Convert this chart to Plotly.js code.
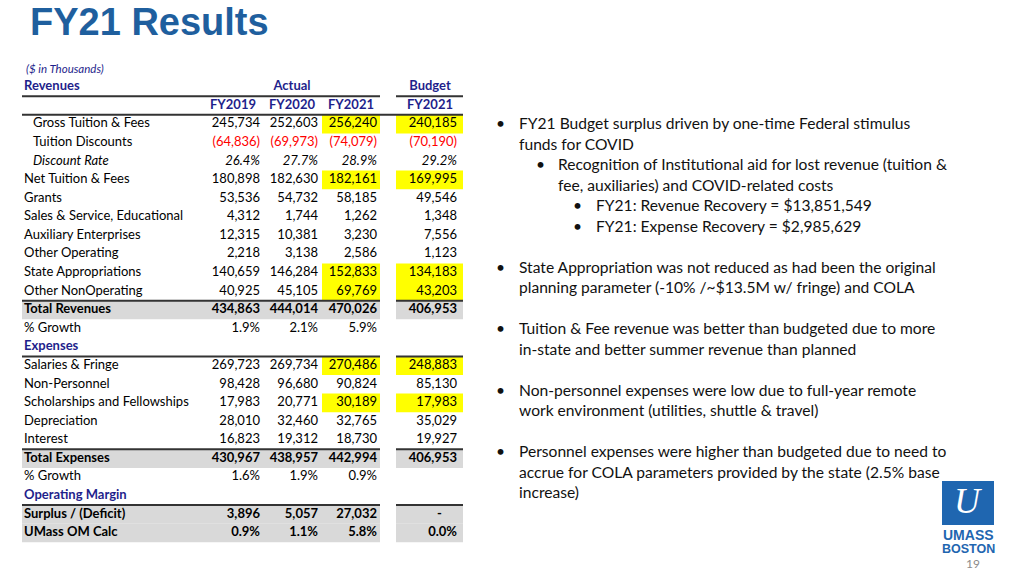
<!DOCTYPE html>
<html>
<head>
<meta charset="utf-8">
<script src="https://cdn.plot.ly/plotly-3.0.1.min.js"></script>
<style>
  html, body { margin: 0; padding: 0; background: #fff; }
  #fy21-results { width: 1024px; height: 576px; }
</style>
</head>
<body>
<div id="fy21-results"></div>
<script>
// ($ in Thousands)
var rowLabels = ["Gross Tuition & Fees", "Tuition Discounts", "Discount Rate", "Net Tuition & Fees", "Grants",
    "Sales & Service, Educational", "Auxiliary Enterprises", "Other Operating", "State Appropriations",
    "Other NonOperating", "Total Revenues", "% Growth", "Expenses", "Salaries & Fringe", "Non-Personnel",
    "Scholarships and Fellowships", "Depreciation", "Interest", "Total Expenses", "% Growth",
    "Operating Margin", "Surplus / (Deficit)", "UMass OM Calc"]

var actualFY2019 = [245734, -64836, 26.4, 180898, 53536, 4312, 12315, 2218, 140659, 40925, 434863, 1.9, null,
    269723, 98428, 17983, 28010, 16823, 430967, 1.6, null, 3896, 0.9]
var actualFY2020 = [252603, -69973, 27.7, 182630, 54732, 1744, 10381, 3138, 146284, 45105, 444014, 2.1, null,
    269734, 96680, 20771, 32460, 19312, 438957, 1.9, null, 5057, 1.1]
var actualFY2021 = [256240, -74079, 28.9, 182161, 58185, 1262, 3230, 2586, 152833, 69769, 470026, 5.9, null,
    270486, 90824, 30189, 32765, 18730, 442994, 0.9, null, 27032, 5.8]
var budgetFY2021 = [240185, -70190, 29.2, 169995, 49546, 1348, 7556, 1123, 134183, 43203, 406953, null, null,
    248883, 85130, 17983, 35029, 19927, 406953, null, null, 0, 0.0]

var columnHeaders = ["FY2019", "FY2020", "FY2021", "FY2021"]
var groupHeaders = ["Actual", "Budget"]

// row roles (indexes into rowLabels)
var percentRows = [2, 11, 19, 22]
var boldRows = [10, 18, 21, 22]
var sectionRows = [12, 20]
var indentRows = [0, 1, 2]
var italicRows = [2]
var highlightRows = [0, 3, 8, 9, 13, 15]
var shadedRows = [10, 18, 21, 22]
var ruleAboveRows = [10, 13, 18, 21]

var bullets = [
    [1, "FY21 Budget surplus driven by one-time Federal stimulus", true],
    [1, "funds for COVID", false],
    [2, "Recognition of Institutional aid for lost revenue (tuition &", true],
    [2, "fee, auxiliaries) and COVID-related costs", false],
    [3, "FY21: Revenue Recovery = $13,851,549", true],
    [3, "FY21: Expense Recovery = $2,985,629", true],
    null,
    [1, "State Appropriation was not reduced as had been the original", true],
    [1, "planning parameter (-10% /~$13.5M w/ fringe) and COLA", false],
    null,
    [1, "Tuition & Fee revenue was better than budgeted due to more", true],
    [1, "in-state and better summer revenue than planned", false],
    null,
    [1, "Non-personnel expenses were low due to full-year remote", true],
    [1, "work environment (utilities, shuttle & travel)", false],
    null,
    [1, "Personnel expenses were higher than budgeted due to need to", true],
    [1, "accrue for COLA parameters provided by the state (2.5% base", false],
    [1, "increase)", false]
]

// ---- layout constants (pixels on the 1024x576 page) ----
var W = 1024, H = 576
var ROW0_PX = 87, ROW_PX = 18.58      // centre of header row 0 and row pitch
var BODY_START = 2                    // body rows sit below two header rows
var LABEL_X = 24, INDENT_X = 33
var valueRight = [260, 318, 377, 457]
var headerCentre = [233, 292, 351, 430]
var groupCentre = [292, 430]
var actualSpan = [22, 380], budgetSpan = [396, 463], fy21Span = [322, 380]

var NAVY = "#1f1f8c", RED = "#ff0000", TEXT = "#000000"
var tableFont = "Lato, 'Open Sans', sans-serif"
var TABLE_SIZE = 13

function has(list, i) { return list.indexOf(i) >= 0 }

function fmt(v, i) {
    if (v === null) return ""
    if (has(percentRows, i)) return v.toFixed(1) + "%"
    if (v === 0) return "-\u2007\u2007"
    var s = Math.abs(v).toLocaleString("en-US")
    return v < 0 ? "(" + s + ")" : s
}

function styled(s, i) {
    if (s === "") return s
    if (has(boldRows, i) || has(sectionRows, i)) s = "<b>" + s + "</b>"
    if (has(italicRows, i)) s = "<i>" + s + "</i>"
    return s
}

var rowY = rowLabels.map((_, i) => i + BODY_START)

// ---- cell fills ----
var shadeRowsY = shadedRows.map(i => i + BODY_START)
var hlRowsY = highlightRows.map(i => i + BODY_START)

function fillBars(ys, span, color) {
    return {
        type: "bar", orientation: "h", y: ys, base: ys.map(() => span[0]),
        x: ys.map(() => span[1] - span[0]), width: 1,
        marker: { color: color, line: { width: 0 } }, hoverinfo: "skip"
    }
}

var traceShadeActual = fillBars(shadeRowsY, actualSpan, "#d9d9d9")
var traceShadeBudget = fillBars(shadeRowsY, budgetSpan, "#d9d9d9")
var traceHighlightActual = fillBars(hlRowsY, fy21Span, "#ffff00")
var traceHighlightBudget = fillBars(hlRowsY, budgetSpan, "#ffff00")

// ---- text ----
var traceLabels = {
    type: "scatter", mode: "text", hoverinfo: "skip",
    x: rowLabels.map((_, i) => has(indentRows, i) ? INDENT_X : LABEL_X),
    y: rowY,
    text: rowLabels.map((s, i) => styled(s, i)),
    textposition: "middle right",
    textfont: { family: tableFont, size: TABLE_SIZE, color: rowLabels.map((_, i) => has(sectionRows, i) ? NAVY : TEXT) }
}

var valueSeries = [actualFY2019, actualFY2020, actualFY2021, budgetFY2021]
var valueTraces = valueSeries.map((vals, c) => ({
    type: "scatter", mode: "text", hoverinfo: "skip",
    x: vals.map(() => valueRight[c]),
    y: rowY,
    text: vals.map((v, i) => styled(fmt(v, i), i)),
    textposition: "middle left",
    textfont: { family: tableFont, size: TABLE_SIZE, color: vals.map(v => v !== null && v < 0 ? RED : TEXT) }
}))

var traceHeaders = {
    type: "scatter", mode: "text", hoverinfo: "skip",
    x: groupCentre.concat(headerCentre),
    y: groupCentre.map(() => 0).concat(headerCentre.map(() => 1)),
    text: groupHeaders.concat(columnHeaders).map(s => "<b>" + s + "</b>"),
    textposition: "middle center",
    textfont: { family: tableFont, size: TABLE_SIZE, color: NAVY }
}
var traceRevenuesHeader = {
    type: "scatter", mode: "text", hoverinfo: "skip",
    x: [LABEL_X], y: [0], text: ["<b>Revenues</b>"], textposition: "middle right",
    textfont: { family: tableFont, size: TABLE_SIZE, color: NAVY }
}

// ---- rules ----
function rule(y, x0, x1) {
    return { type: "line", xref: "x", yref: "y", x0: x0, x1: x1, y0: y, y1: y, line: { color: "#333333", width: 2 } }
}
var shapes = [rule(0.5, actualSpan[0], actualSpan[1]), rule(0.5, budgetSpan[0], budgetSpan[1]),
    rule(1.5, actualSpan[0], budgetSpan[1])]
ruleAboveRows.forEach(i => {
    shapes.push(rule(i + BODY_START - 0.5, actualSpan[0], actualSpan[1]))
    shapes.push(rule(i + BODY_START - 0.5, budgetSpan[0], budgetSpan[1]))
})

// logo block
shapes.push({ type: "rect", xref: "paper", yref: "paper", x0: 942 / W, x1: 994 / W, y0: 1 - 525 / H, y1: 1 - 481 / H,
    fillcolor: "#1f66b0", line: { width: 0 } })

// ---- annotations ----
function px(x) { return x / W }
function py(y) { return 1 - y / H }

var annotations = [
    { text: "<i>($ in Thousands)</i>", x: LABEL_X, y: -1.02, xref: "x", yref: "y", xanchor: "left", yanchor: "middle",
        showarrow: false, font: { family: tableFont, size: 11.5, color: NAVY } }
]

var bulletX = { 1: 494, 2: 534, 3: 571 }
var bulletTextX = { 1: 517, 2: 556, 3: 594 }
bullets.forEach((b, k) => {
    if (!b) return
    var y = 123 + k * 20.5
    var f = { family: tableFont, size: 15.6, color: "#111111" }
    if (b[2]) annotations.push({ text: "\u2022", x: px(bulletX[b[0]]), y: py(y), xref: "paper", yref: "paper",
        xanchor: "left", yanchor: "middle", showarrow: false, font: f })
    annotations.push({ text: b[1], x: px(bulletTextX[b[0]]), y: py(y), xref: "paper", yref: "paper",
        xanchor: "left", yanchor: "middle", showarrow: false, font: f })
})

annotations.push(
    { text: "<i>U</i>", x: px(968), y: py(501), xref: "paper", yref: "paper", xanchor: "center", yanchor: "middle",
        showarrow: false, font: { family: "'Liberation Serif', serif", size: 36, color: "#ffffff" } },
    { text: "<b>UMASS</b>", x: px(968), y: py(535), xref: "paper", yref: "paper", xanchor: "center", yanchor: "middle",
        showarrow: false, font: { family: "'Liberation Sans', Arial, sans-serif", size: 14, color: "#1f66b0" } },
    { text: "<b>BOSTON</b>", x: px(968), y: py(549), xref: "paper", yref: "paper", xanchor: "center", yanchor: "middle",
        showarrow: false, font: { family: "'Liberation Sans', Arial, sans-serif", size: 12.5, color: "#1f66b0" } },
    { text: "19", x: px(973), y: py(563), xref: "paper", yref: "paper", xanchor: "center", yanchor: "middle",
        showarrow: false, font: { family: tableFont, size: 12, color: "#8c8c8c" } }
)

var layout = {
    width: W, height: H,
    margin: { l: 0, r: 0, t: 0, b: 0 },
    paper_bgcolor: "#ffffff", plot_bgcolor: "rgba(0,0,0,0)",
    showlegend: false, barmode: "overlay",
    title: { text: "<b>FY21 Results</b>", x: px(30), xanchor: "left", xref: "paper", y: py(22), yanchor: "middle",
        font: { family: "'Liberation Sans', Arial, sans-serif", size: 38, color: "#1f5f9e" } },
    xaxis: { range: [0, W], visible: false, fixedrange: true },
    yaxis: { range: [(H - ROW0_PX) / ROW_PX, -ROW0_PX / ROW_PX], visible: false, fixedrange: true },
    shapes: shapes,
    annotations: annotations
}

Plotly.newPlot("fy21-results",
    [traceShadeActual, traceShadeBudget, traceHighlightActual, traceHighlightBudget,
        traceLabels, traceRevenuesHeader, traceHeaders].concat(valueTraces),
    layout, { displayModeBar: false, staticPlot: true })
</script>
</body>
</html>
